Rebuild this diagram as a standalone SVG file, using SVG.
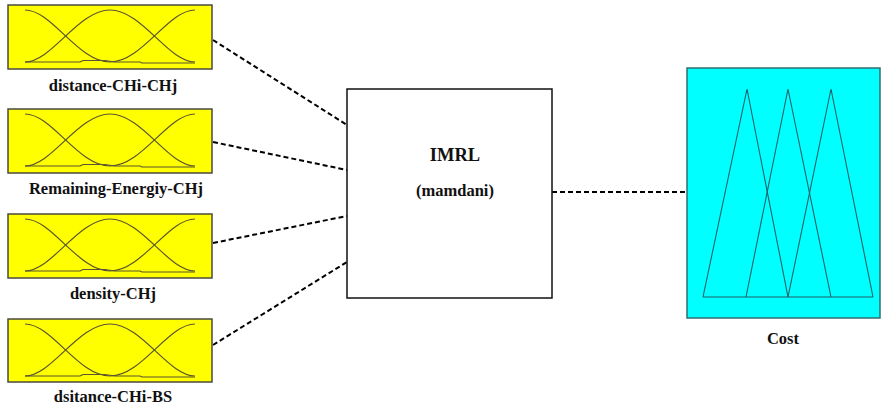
<svg xmlns="http://www.w3.org/2000/svg" width="881" height="410" viewBox="0 0 881 410">
<defs>
<style>
.lbl{font-family:"Liberation Serif","Times New Roman",serif;font-weight:bold;font-size:16.5px;fill:#111;text-anchor:middle}
.in{fill:#ffff00;stroke:#4a4a40;stroke-width:1.5}
.mf{fill:none;stroke:#5a5530;stroke-width:1.2}
.conn{stroke:#000;stroke-width:2;stroke-dasharray:5,3;fill:none}
.out{fill:#00ffff;stroke:#2f6f6f;stroke-width:1.5}
.tri{fill:none;stroke:#1f5f66;stroke-width:1.1}
</style>
<g id="mfs">
<path class="mf" d="M25,10 C52,10 78,62 110,62"/>
<path class="mf" d="M25,62 C52,62 78,10 110,10 C142,10 168,62 195,62"/>
<path class="mf" d="M110,62 C142,62 168,10 195,10"/>
<path class="mf" d="M25,62 L80,62 L83,60.5 L105,60.5 L115,62 L140,62 L142,63 L195,63"/>
</g>
</defs>
<rect width="881" height="410" fill="#fff"/>
<g id="connectors">
<line class="conn" x1="213" y1="40" x2="347" y2="125"/>
<line class="conn" x1="213" y1="142" x2="347" y2="170"/>
<line class="conn" x1="213" y1="243" x2="347" y2="216"/>
<line class="conn" x1="213" y1="345" x2="347" y2="262"/>
<line class="conn" x1="552" y1="192" x2="687" y2="192"/>
</g>
<g id="input1">
<rect class="in" x="8" y="5" width="204" height="64"/>
<use href="#mfs"/>
<text class="lbl" x="113" y="91">distance-CHi-CHj</text>
</g>
<g id="input2">
<rect class="in" x="8" y="109" width="204" height="64"/>
<use href="#mfs" y="104"/>
<text class="lbl" x="116" y="194">Remaining-Energiy-CHj</text>
</g>
<g id="input3">
<rect class="in" x="8" y="214" width="204" height="64"/>
<use href="#mfs" y="209"/>
<text class="lbl" x="113" y="299">density-CHj</text>
</g>
<g id="input4">
<rect class="in" x="8" y="319" width="204" height="63"/>
<use href="#mfs" y="314"/>
<text class="lbl" x="113" y="402">dsitance-CHi-BS</text>
</g>
<g id="system">
<rect x="347" y="89" width="205" height="209" fill="#fff" stroke="#111" stroke-width="1.5"/>
<text class="lbl" x="455" y="161" style="font-size:18.5px">IMRL</text>
<text class="lbl" x="455" y="196">(mamdani)</text>
</g>
<g id="output">
<rect class="out" x="687" y="68" width="193" height="250"/>
<polyline class="tri" points="703,297 747,89 788,297"/>
<polyline class="tri" points="746,297 788,89 831,297"/>
<polyline class="tri" points="788,297 831,89 873,297"/>
<line class="tri" x1="703" y1="297" x2="873" y2="297"/>
<text class="lbl" x="783" y="344">Cost</text>
</g>
</svg>
